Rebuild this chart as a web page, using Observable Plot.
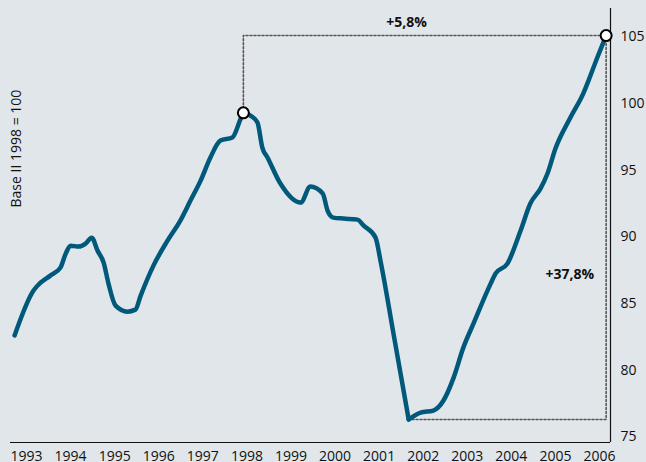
<!DOCTYPE html>
<html>
<head>
<meta charset="utf-8">
<script src="https://cdn.jsdelivr.net/npm/d3@7"></script>
<script src="https://cdn.jsdelivr.net/npm/@observablehq/plot@0.6"></script>
<style>
  html, body { margin: 0; padding: 0; background: #e1e6ea; }
</style>
</head>
<body>
<div id="chart"></div>
<script>
// Time (decimal years) and index values (base 1998 = 100)
const times = [1992.73, 1993.16, 1993.25, 1993.54, 1993.77, 1993.89, 1994.00, 1994.18, 1994.34, 1994.48,
  1994.61, 1994.75, 1994.86, 1995.02, 1995.29, 1995.47, 1995.59, 1995.88, 1996.20, 1996.49,
  1996.72, 1996.95, 1997.17, 1997.40, 1997.67, 1997.86, 1997.92, 1998.08, 1998.24, 1998.35,
  1998.47, 1998.76, 1999.22, 1999.44, 1999.72, 1999.83, 1999.96, 2000.19, 2000.51, 2000.65,
  2000.92, 2001.03, 2001.35, 2001.67, 2001.94, 2002.23, 2002.46, 2002.69, 2002.91, 2003.14, 2003.53,
  2003.64, 2003.91, 2004.21, 2004.43, 2004.66, 2004.82, 2005.00, 2005.34, 2005.64, 2005.75,
  2005.95, 2006.15];
const values = [82.6, 85.97, 86.34, 87.09, 87.69, 88.74, 89.34, 89.27, 89.49, 89.94,
  88.97, 88.07, 86.49, 84.84, 84.39, 84.54, 85.59, 87.84, 89.72, 91.22,
  92.72, 94.22, 95.94, 97.22, 97.45, 98.87, 99.3, 99.1, 98.57, 96.7,
  95.94, 94.0, 92.57, 93.77, 93.25, 91.97, 91.44, 91.37, 91.29, 90.84,
  89.94, 88.22, 82.29, 76.3, 76.82, 76.97, 77.72, 79.44, 81.69, 83.49, 86.49,
  87.24, 87.99, 90.47, 92.5, 93.62, 94.75, 96.62, 98.95, 100.82, 101.72,
  103.45, 105.1];

// Highlighted points: 1998 peak, 2001 trough, 2006 end
const peak = {t: 1997.92, v: 99.3};
const trough = {t: 2001.67, v: 76.3};
const last = {t: 2006.15, v: 105.1};

const xTicks = [1993, 1994, 1995, 1996, 1997, 1998, 1999, 2000, 2001, 2002, 2003, 2004, 2005, 2006];
const yTicks = [75, 80, 85, 90, 95, 100, 105];
const yTitle = "Base II 1998 = 100";
const labelTop = "+5,8%";
const labelRight = "+37,8%";

const data = times.map((t, i) => ({t, v: values[i]}));
const before = data.filter(d => d.t <= trough.t);
const after = data.filter(d => d.t >= trough.t);
const xDomain = [1992.637, 2006.249];
const yDomain = [74.572, 107.13];
const lineStyle = {x: "t", y: "v", stroke: "#00587a", strokeWidth: 4.5, curve: "monotone-x", strokeLinejoin: "round", strokeLinecap: "round"};

const chart = Plot.plot({
  width: 646,
  height: 462,
  marginLeft: 10,
  marginRight: 36,
  marginTop: 8,
  marginBottom: 20,
  style: {fontFamily: "'Open Sans', sans-serif", fontSize: "14px", background: "#e1e6ea", color: "#111"},
  x: {domain: xDomain, ticks: xTicks, tickFormat: d3.format("d"), tickSize: 0, tickPadding: 9, label: null},
  y: {domain: yDomain, ticks: yTicks, axis: "right", tickSize: 0, tickPadding: 10, label: null},
  marks: [
    Plot.ruleY([yDomain[0]], {stroke: "#111", strokeWidth: 1.2}),
    Plot.ruleX([xDomain[1]], {stroke: "#111", strokeWidth: 1.2}),
    Plot.line([[peak.t, peak.v], [peak.t, last.v], [last.t, last.v]], {
      stroke: "#555", strokeWidth: 1.6, strokeDasharray: "2,2"
    }),
    Plot.line([[last.t, last.v], [last.t, trough.v], [trough.t, trough.v]], {
      stroke: "#555", strokeWidth: 1.6, strokeDasharray: "2,2"
    }),
    Plot.line(before, lineStyle),
    Plot.line(after, lineStyle),
    Plot.dot([peak, last], {x: "t", y: "v", r: 5.5, fill: "white", stroke: "black", strokeWidth: 2}),
    Plot.text([labelTop], {x: [2001.62], y: [last.v], dy: -13, text: d => d, fontWeight: "bold", fontSize: 14, fill: "#111"}),
    Plot.text([labelRight], {x: [last.t], y: [87.17], dx: -12, textAnchor: "end", text: d => d, fontWeight: "bold", fontSize: 14, fill: "#111"}),
    Plot.text([yTitle], {x: [1992.77], y: [96.62], rotate: -90, textAnchor: "middle", text: d => d, fontSize: 14, fill: "#111"})
  ]
});
document.getElementById("chart").appendChild(chart);
</script>
</body>
</html>
